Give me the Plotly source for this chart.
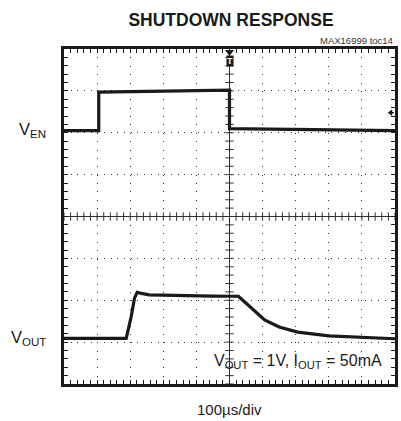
import plotly.graph_objects as go
import numpy as np

# time in microseconds (100 us/div), amplitude in scope divisions
time_ven = [-500, -395, -395, -300, -200, -100, 0, 0, 100, 200, 300, 400, 500]
ven = [2.05, 2.05, 2.97, 2.98, 2.99, 3.00, 3.02, 2.10, 2.09, 2.08, 2.07, 2.06, 2.05]

time_vout = [-500, -400, -312, -297, -287, -279, -270, -243, -200, -150, -100, -50, 0,
             27, 57, 106, 150, 206, 300, 400, 500]
vout = [-2.91, -2.91, -2.91, -2.39, -1.95, -1.81, -1.83, -1.87, -1.88, -1.89, -1.90, -1.90, -1.905,
        -1.905, -2.12, -2.47, -2.64, -2.76, -2.85, -2.89, -2.92]

title_text = "SHUTDOWN RESPONSE"
note_text = "MAX16999 toc14"
ven_label = "V<sub>EN</sub>"
vout_label = "V<sub>OUT</sub>"
cond_text = "V<sub>OUT</sub> = 1V, I<sub>OUT</sub> = 50mA"
xlabel = "100µs/div"
trig_level = 2.48

INK = "#1a1a1a"
FONT = "Liberation Sans, Arial, sans-serif"

fig = go.Figure()

# centre crosshair
fig.add_shape(type="line", x0=-500, x1=500, y0=0, y1=0, line=dict(color="#333", width=1), layer="below")
fig.add_shape(type="line", x0=0, x1=0, y0=-4, y1=4, line=dict(color="#333", width=1), layer="below")
hx = np.arange(-500, 501, 20)
fig.add_trace(go.Scatter(x=hx, y=np.zeros_like(hx, dtype=float), mode="markers",
                         marker=dict(symbol="line-ns", size=6, line=dict(color="#333", width=1)),
                         hoverinfo="skip", showlegend=False))
vy = np.arange(-4, 4.01, 0.2)
fig.add_trace(go.Scatter(x=np.zeros_like(vy), y=vy, mode="markers",
                         marker=dict(symbol="line-ew", size=6, line=dict(color="#333", width=1)),
                         hoverinfo="skip", showlegend=False))

fig.add_trace(go.Scatter(x=time_ven, y=ven, mode="lines", line=dict(color=INK, width=3.2),
                         hoverinfo="skip", showlegend=False))
fig.add_trace(go.Scatter(x=time_vout, y=vout, mode="lines", line=dict(color=INK, width=3.2),
                         hoverinfo="skip", showlegend=False))

# trigger marker
fig.add_trace(go.Scatter(x=[0], y=[3.93], mode="markers",
                         marker=dict(symbol="triangle-down", size=8, color=INK),
                         hoverinfo="skip", showlegend=False, cliponaxis=False))

# trigger-level arrow at right edge
fig.add_trace(go.Scatter(x=[488, 497], y=[trig_level, trig_level], mode="lines",
                         line=dict(color=INK, width=1.3), hoverinfo="skip", showlegend=False))
fig.add_trace(go.Scatter(x=[487], y=[trig_level], mode="markers",
                         marker=dict(symbol="triangle-left", size=6, color=INK),
                         hoverinfo="skip", showlegend=False))

fig.update_layout(
    width=401, height=421,
    margin=dict(l=64, r=3, t=49, b=37),
    paper_bgcolor="white", plot_bgcolor="white",
    font=dict(family=FONT, color=INK),
    title=dict(text="<b>" + title_text + "</b>", x=231 / 401, xanchor="center",
               y=1 - 20 / 421, yanchor="middle", font=dict(size=17.5, color=INK)),
    xaxis=dict(range=[-500, 500], dtick=100, showticklabels=False, zeroline=False,
               showgrid=True, gridcolor="#333", gridwidth=1, griddash="1px,7.38px",
               showline=True, linecolor=INK, linewidth=3, mirror="allticks",
               ticks="inside", ticklen=4, tickcolor=INK, tickwidth=1,
               minor=dict(dtick=20, ticks="inside", ticklen=4, tickcolor=INK, tickwidth=1, showgrid=False),
               fixedrange=True),
    yaxis=dict(range=[-4, 4], dtick=1, showticklabels=False, zeroline=False,
               showgrid=True, gridcolor="#333", gridwidth=1, griddash="1px,5.68px",
               showline=True, linecolor=INK, linewidth=3, mirror="allticks",
               ticks="inside", ticklen=4, tickcolor=INK, tickwidth=1,
               minor=dict(dtick=0.2, ticks="inside", ticklen=4, tickcolor=INK, tickwidth=1, showgrid=False),
               fixedrange=True),
    annotations=[
        dict(text=note_text, xref="paper", yref="paper", x=1.0, y=(384 - 40) / 335,
             xanchor="right", yanchor="middle", showarrow=False, font=dict(size=9.5, color="#333")),
        dict(text=ven_label, xref="paper", yref="y", x=-16 / 334, y=2.06,
             xanchor="right", yanchor="middle", showarrow=False, font=dict(size=16.5, color=INK)),
        dict(text=vout_label, xref="paper", yref="y", x=-16 / 334, y=-2.9,
             xanchor="right", yanchor="middle", showarrow=False, font=dict(size=16.5, color=INK)),
        dict(text=cond_text, xref="x", yref="y", x=206, y=-3.47,
             xanchor="center", yanchor="middle", showarrow=False, font=dict(size=16, color=INK)),
        dict(text=xlabel, xref="paper", yref="paper", x=(231 - 64) / 334, y=-(409 - 384) / 335,
             xanchor="center", yanchor="middle", showarrow=False, font=dict(size=15, color=INK)),
        dict(text="<b>T</b>", xref="x", yref="y", x=0, y=3.71, xanchor="center", yanchor="middle",
             showarrow=False, font=dict(size=9, color="white"), bgcolor=INK, borderpad=0),
    ],
)

fig.write_html("out.html", config={"displayModeBar": False},
               post_script="document.body.style.margin='0';")
